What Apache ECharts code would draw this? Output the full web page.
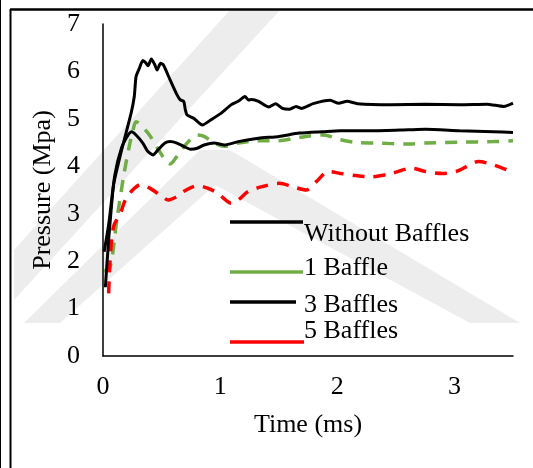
<!DOCTYPE html>
<html>
<head>
<meta charset="utf-8">
<script src="https://cdn.jsdelivr.net/npm/echarts@6/dist/echarts.min.js"></script>
<style>
  html, body { margin: 0; padding: 0; background: #fff; }
  #chart { width: 533px; height: 468px; }
</style>
</head>
<body>
<div id="chart"></div>
<script>
// Pressure traces (MPa) against time (ms) for each baffle configuration
const tWithout = [0.02, 0.05, 0.09, 0.13, 0.17, 0.24, 0.267, 0.282, 0.311, 0.34, 0.369, 0.384, 0.413, 0.442, 0.462, 0.491, 0.515, 0.573, 0.631, 0.66, 0.689, 0.703, 0.718, 0.776, 0.849, 0.922, 1.01, 1.096, 1.154, 1.212, 1.241, 1.27, 1.328, 1.416, 1.474, 1.532, 1.59, 1.648, 1.692, 1.794, 1.939, 2.012, 2.084, 2.172, 2.462, 2.753, 3.044, 3.276, 3.422, 3.5];
const pWithout = [1.45, 2.5, 3.6, 4.05, 4.45, 5.12, 5.47, 5.89, 6.07, 6.23, 6.17, 6.12, 6.26, 6.14, 6.03, 6.17, 6.14, 5.82, 5.51, 5.40, 5.37, 5.19, 5.08, 5.01, 4.87, 4.98, 5.12, 5.30, 5.37, 5.47, 5.40, 5.41, 5.37, 5.25, 5.32, 5.22, 5.20, 5.26, 5.22, 5.32, 5.39, 5.33, 5.37, 5.32, 5.30, 5.31, 5.30, 5.31, 5.26, 5.33];

const tOne = [0.01, 0.05, 0.122, 0.18, 0.224, 0.26, 0.282, 0.384, 0.456, 0.529, 0.573, 0.631, 0.718, 0.805, 0.863, 0.95, 1.038, 1.154, 1.328, 1.503, 1.677, 1.881, 2.026, 2.172, 2.317, 2.608, 2.753, 3.044, 3.334, 3.5];
const pOne = [1.8, 1.81, 2.94, 3.85, 4.42, 4.8, 4.94, 4.70, 4.42, 4.14, 4.05, 4.21, 4.49, 4.66, 4.63, 4.49, 4.42, 4.49, 4.54, 4.54, 4.61, 4.66, 4.56, 4.50, 4.49, 4.47, 4.49, 4.51, 4.52, 4.54];

const tThree = [0.01, 0.05, 0.1, 0.16, 0.22, 0.245, 0.282, 0.34, 0.384, 0.427, 0.471, 0.529, 0.573, 0.631, 0.689, 0.747, 0.805, 0.863, 0.95, 1.038, 1.154, 1.328, 1.503, 1.677, 1.881, 2.026, 2.317, 2.608, 2.753, 3.044, 3.334, 3.5];
const pThree = [2.2, 2.8, 3.8, 4.4, 4.68, 4.73, 4.66, 4.49, 4.31, 4.24, 4.35, 4.49, 4.52, 4.49, 4.42, 4.36, 4.38, 4.45, 4.49, 4.45, 4.52, 4.59, 4.63, 4.70, 4.73, 4.75, 4.75, 4.77, 4.78, 4.75, 4.73, 4.71];

const tFive = [0.048, 0.06, 0.09, 0.148, 0.19, 0.253, 0.326, 0.398, 0.485, 0.558, 0.631, 0.703, 0.805, 0.892, 0.98, 1.096, 1.154, 1.241, 1.358, 1.503, 1.619, 1.735, 1.823, 1.924, 2.026, 2.172, 2.288, 2.462, 2.637, 2.753, 2.898, 3.015, 3.131, 3.203, 3.334, 3.451];
const pFive = [1.32, 2.0, 2.73, 3.0, 3.29, 3.50, 3.62, 3.54, 3.40, 3.29, 3.36, 3.49, 3.59, 3.54, 3.43, 3.22, 3.29, 3.47, 3.57, 3.64, 3.57, 3.50, 3.68, 3.89, 3.85, 3.80, 3.78, 3.85, 3.96, 3.89, 3.85, 3.89, 4.03, 4.10, 4.03, 3.92];

const seriesNames = ['Without Baffles', '1 Baffle', '3 Baffles', '5 Baffles'];
const xTicks = [0, 1, 2, 3];
const yTicks = [0, 1, 2, 3, 4, 5, 6, 7];

const pair = (ts, ps) => ts.map((t, i) => [t, ps[i]]);
const FONT = '"Liberation Serif", "Times New Roman", serif';
const GREEN = '#70AD47';
const RED = '#FF0000';
const SHADE = '#ededed';

const chart = echarts.init(document.getElementById('chart'), null, { renderer: 'canvas' });

// legend keys: a short line above/beside each label
function legendItem(y1, x2, color, ty, text) {
  return [
    { type: 'line', shape: { x1: 230, y1: y1, x2: x2, y2: y1 }, style: { stroke: color, lineWidth: 3.5 }, z: 10 },
    { type: 'text', x: 304, y: ty, style: { text: text, font: '26px ' + FONT, fill: '#000', textVerticalAlign: 'middle' }, z: 10 }
  ];
}

// faint background emblem made of diagonal bands
function band(points) {
  return { type: 'polygon', shape: { points: points }, style: { fill: SHADE }, z: -10, silent: true };
}

const option = {
  animation: false,
  backgroundColor: '#fff',
  grid: { left: 103, right: 20, top: 24, bottom: 112, containLabel: false },
  xAxis: {
    type: 'value', min: 0, max: 3.5, interval: 1,
    name: 'Time (ms)', nameLocation: 'middle', nameGap: 56,
    nameTextStyle: { fontFamily: FONT, fontSize: 26, color: '#000', verticalAlign: 'top' },
    axisLine: { onZero: false, lineStyle: { color: '#000', width: 1.5 } },
    axisTick: { show: false },
    splitLine: { show: false },
    axisLabel: { showMaxLabel: false, margin: 18, fontFamily: FONT, fontSize: 26, color: '#000',
      formatter: v => (xTicks.includes(v) ? String(v) : '') }
  },
  yAxis: {
    type: 'value', min: 0, max: 7, interval: 1,
    name: 'Pressure (Mpa)', nameLocation: 'middle', nameGap: 46,
    nameTextStyle: { fontFamily: FONT, fontSize: 26, color: '#000' },
    axisLine: { show: true, lineStyle: { color: '#000', width: 1.5 } },
    axisTick: { show: false },
    splitLine: { show: false },
    axisLabel: { margin: 23, fontFamily: FONT, fontSize: 26, color: '#000',
      formatter: v => (yTicks.includes(v) ? String(v) : '') }
  },
  series: [
    { name: seriesNames[0], type: 'line', data: pair(tWithout, pWithout), showSymbol: false, smooth: 0.2,
      lineStyle: { color: '#000', width: 3 }, z: 4 },
    { name: seriesNames[1], type: 'line', data: pair(tOne, pOne), showSymbol: false, smooth: 0.3,
      lineStyle: { color: GREEN, width: 3.5, type: [12, 9] }, z: 3 },
    { name: seriesNames[2], type: 'line', data: pair(tThree, pThree), showSymbol: false, smooth: 0.2,
      lineStyle: { color: '#000', width: 3 }, z: 4 },
    { name: seriesNames[3], type: 'line', data: pair(tFive, pFive), showSymbol: false, smooth: 0.3,
      lineStyle: { color: RED, width: 3.5, type: [12, 9] }, z: 3 }
  ],
  graphic: [
    // background emblem
    band([[14, 300], [14, 250], [230, 10], [280, 10]]),
    band([[24, 323], [200, 150], [230, 150], [520, 323], [470, 323], [215, 185], [60, 323]]),
    // outer frame
    { type: 'line', shape: { x1: 0.5, y1: 0, x2: 0.5, y2: 468 }, style: { stroke: '#000', lineWidth: 1 } },
    { type: 'line', shape: { x1: 10.5, y1: 9, x2: 10.5, y2: 468 }, style: { stroke: '#000', lineWidth: 2 } },
    { type: 'line', shape: { x1: 10, y1: 9.5, x2: 533, y2: 9.5 }, style: { stroke: '#000', lineWidth: 2.5 } },
    ...legendItem(222, 303, '#000', 234, seriesNames[0]),
    ...legendItem(272, 303, GREEN, 268, seriesNames[1]),
    ...legendItem(302, 296, '#000', 305, seriesNames[2]),
    ...legendItem(342, 304, RED, 331, seriesNames[3])
  ]
};

chart.setOption(option);
</script>
</body>
</html>
